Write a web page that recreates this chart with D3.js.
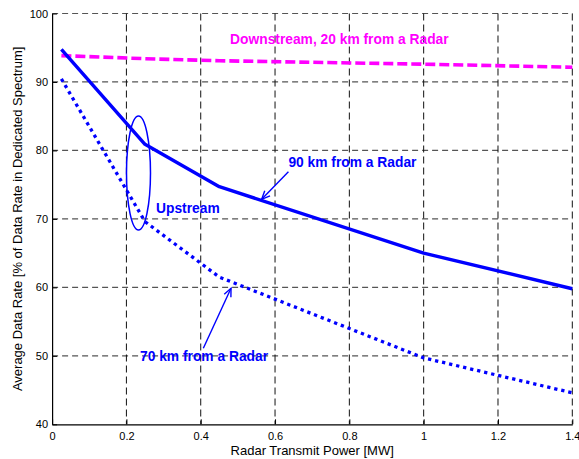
<!DOCTYPE html>
<html>
<head>
<meta charset="utf-8">
<script src="https://cdn.jsdelivr.net/npm/d3@7"></script>
<style>
  html, body { margin: 0; padding: 0; background: #fff; }
  svg { display: block; font-family: "Liberation Sans", Arial, sans-serif; }
</style>
</head>
<body>
<svg id="chart" width="579" height="459"></svg>
<script>
// Radar transmit power (MW) at which each rate was evaluated
const power = [0.025, 0.25, 0.45, 1.0, 1.4];
// Average data rate, % of the rate in dedicated spectrum
const downstream20km = [93.85, 93.4, 93.1, 92.6, 92.15];
const upstream90km   = [94.75, 80.9, 74.7, 65.0, 59.8];
const upstream70km   = [90.45, 69.6, 61.5, 49.7, 44.6];

const xTicks = [0, 0.2, 0.4, 0.6, 0.8, 1, 1.2, 1.4];
const yTicks = [40, 50, 60, 70, 80, 90, 100];

// Annotation text, anchored in data coordinates
const labels = [
  { text: "Downstream, 20 km from a Radar", x: 0.479, y: 95.5,  color: "#ff00ff" },
  { text: "90 km from a Radar",             x: 0.636, y: 77.58, color: "#0000ff" },
  { text: "Upstream",                       x: 0.2797, y: 70.86, color: "#0000ff" },
  { text: "70 km from a Radar",             x: 0.2366, y: 49.24, color: "#0000ff" }
];
const arrows = [
  { x1: 0.636, y1: 76.89, x2: 0.564, y2: 72.86 },
  { x1: 0.407, y1: 51.1,  x2: 0.4815, y2: 59.86 }
];
const upstreamRing = { cx: 0.2325, cy: 76.7, rx: 0.0323, ry: 8.32 };

const svg = d3.select("#chart");
const x = d3.scaleLinear().domain([0, 1.4]).range([52.1, 572.3]);
const y = d3.scaleLinear().domain([40, 100]).range([424.3, 13.5]);

// Dashed grid
const grid = svg.append("g");
grid.selectAll("line.h").data(yTicks.filter(d => d > 40)).join("line")
  .attr("x1", x(0)).attr("x2", x(1.4))
  .attr("y1", d => y(d)).attr("y2", d => y(d))
  .attr("stroke", "#555").attr("stroke-width", 1.2)
  .attr("stroke-dasharray", "6 4");
grid.selectAll("line.v").data(xTicks.filter(d => d > 0)).join("line")
  .attr("x1", d => x(d)).attr("x2", d => x(d))
  .attr("y1", y(100)).attr("y2", y(40))
  .attr("stroke", "#111").attr("stroke-width", 1)
  .attr("stroke-dasharray", "7 4");

// Axes with inward ticks
const fmt = d => d3.format("~g")(d);
const xAxis = svg.append("g").attr("transform", `translate(0,${y(40)})`)
  .call(d3.axisBottom(x).tickValues(xTicks).tickFormat(fmt).tickSizeInner(-5).tickSizeOuter(0).tickPadding(8));
const yAxis = svg.append("g").attr("transform", `translate(${x(0)},0)`)
  .call(d3.axisLeft(y).tickValues(yTicks).tickFormat(fmt).tickSizeInner(-5).tickSizeOuter(0).tickPadding(4));
[xAxis, yAxis].forEach(a => {
  a.select(".domain").attr("stroke", "#000").attr("stroke-width", 1.2);
  a.selectAll(".tick line").attr("stroke", "#000");
  a.selectAll(".tick text").attr("fill", "#000").style("font-size", "11px")
    .style("font-family", "'Liberation Sans', Arial, sans-serif");
});

svg.append("text")
  .attr("x", (x(0) + x(1.4)) / 2).attr("y", 455)
  .attr("text-anchor", "middle").style("font-size", "13px").attr("fill", "#000")
  .text("Radar Transmit Power [MW]");
svg.append("text")
  .attr("transform", `translate(22,${(y(40) + y(100)) / 2}) rotate(-90)`)
  .attr("text-anchor", "middle").style("font-size", "13px").attr("fill", "#000")
  .text("Average Data Rate [% of Data Rate in Dedicated Spectrum]");

// Curves
const line = d3.line().x((d, i) => x(power[i])).y(d => y(d));
svg.append("path").datum(downstream20km).attr("d", line)
  .attr("fill", "none").attr("stroke", "#ff00ff").attr("stroke-width", 3.6)
  .attr("stroke-dasharray", "10 4");
svg.append("path").datum(upstream90km).attr("d", line)
  .attr("fill", "none").attr("stroke", "#0000ff").attr("stroke-width", 3.4)
  .attr("stroke-linejoin", "round");
svg.append("path").datum(upstream70km).attr("d", line)
  .attr("fill", "none").attr("stroke", "#0000ff").attr("stroke-width", 3.3)
  .attr("stroke-dasharray", "3.3 3.9");

// Ring around the upstream curves
svg.append("ellipse")
  .attr("cx", x(upstreamRing.cx)).attr("cy", y(upstreamRing.cy))
  .attr("rx", x(upstreamRing.rx) - x(0)).attr("ry", y(40) - y(40 + upstreamRing.ry))
  .attr("fill", "none").attr("stroke", "#0000ff").attr("stroke-width", 1.5);

// Pointer arrows with open heads
arrows.forEach(a => {
  const x1 = x(a.x1), y1 = y(a.y1), x2 = x(a.x2), y2 = y(a.y2);
  const ang = Math.atan2(y2 - y1, x2 - x1), len = 9, spread = 0.42;
  svg.append("line").attr("x1", x1).attr("y1", y1).attr("x2", x2).attr("y2", y2)
    .attr("stroke", "#0000ff").attr("stroke-width", 1.4);
  const p = [ang + Math.PI - spread, ang + Math.PI + spread]
    .map(t => [x2 + len * Math.cos(t), y2 + len * Math.sin(t)]);
  svg.append("path")
    .attr("d", `M${p[0][0]},${p[0][1]}L${x2},${y2}L${p[1][0]},${p[1][1]}`)
    .attr("fill", "none").attr("stroke", "#0000ff").attr("stroke-width", 1.4);
});

svg.selectAll("text.note").data(labels).join("text")
  .attr("class", "note")
  .attr("x", d => x(d.x)).attr("y", d => y(d.y))
  .attr("fill", d => d.color).style("font-weight", "bold").style("font-size", "13.8px")
  .text(d => d.text);
</script>
</body>
</html>
